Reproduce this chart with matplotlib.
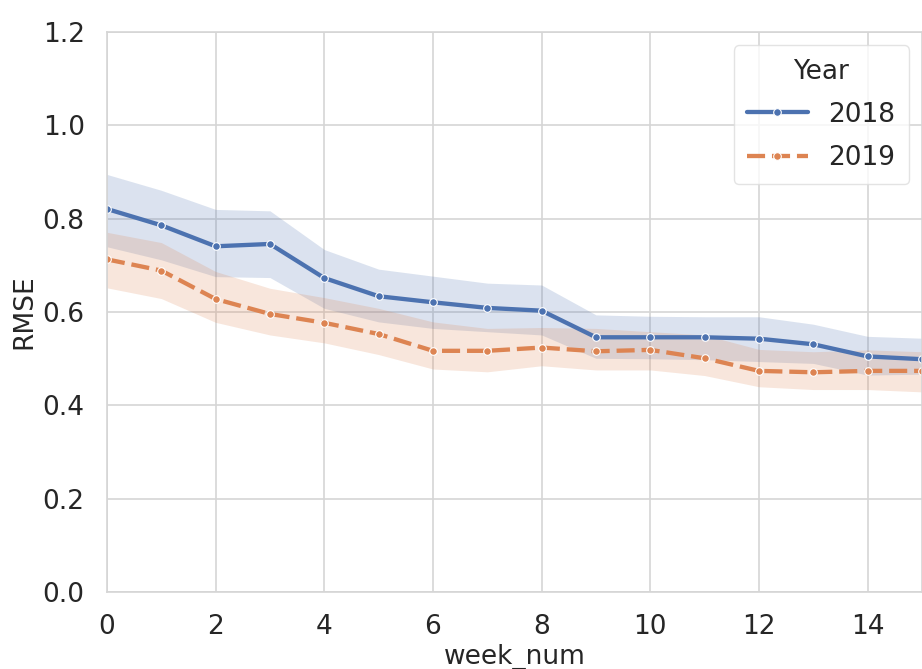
import matplotlib
matplotlib.use('Agg')
import matplotlib.pyplot as plt
import seaborn as sns

# Haftalık RMSE değerleri (ortalama ve güven aralığı)
weeks = list(range(16))
rmse_2018 = [0.821, 0.786, 0.741, 0.746, 0.673, 0.634, 0.621, 0.609,
             0.603, 0.546, 0.546, 0.546, 0.543, 0.531, 0.505, 0.499]
upper_2018 = [0.895, 0.861, 0.820, 0.817, 0.734, 0.692, 0.677, 0.662,
              0.658, 0.594, 0.591, 0.590, 0.590, 0.574, 0.548, 0.544]
lower_2018 = [0.740, 0.712, 0.676, 0.674, 0.608, 0.579, 0.565, 0.558,
              0.551, 0.501, 0.500, 0.498, 0.494, 0.490, 0.465, 0.467]
rmse_2019 = [0.713, 0.689, 0.628, 0.596, 0.577, 0.553, 0.517, 0.517,
             0.524, 0.516, 0.519, 0.501, 0.474, 0.471, 0.474, 0.474]
upper_2019 = [0.771, 0.749, 0.687, 0.651, 0.631, 0.608, 0.579, 0.565,
              0.567, 0.565, 0.558, 0.551, 0.520, 0.515, 0.519, 0.515]
lower_2019 = [0.652, 0.629, 0.578, 0.551, 0.534, 0.509, 0.478, 0.472,
              0.485, 0.476, 0.476, 0.464, 0.440, 0.434, 0.434, 0.429]

years = ['2018', '2019']
yticks = [0.0, 0.2, 0.4, 0.6, 0.8, 1.0, 1.2]
xticks = [0, 2, 4, 6, 8, 10, 12, 14]

sns.set_theme(style='whitegrid')
plt.rcParams['font.family'] = ['DejaVu Sans']
colors = sns.color_palette('deep')

fig = plt.figure(figsize=(9.22, 6.69), dpi=100)
ax = fig.add_axes([0.116, 0.115, 0.884, 0.837])

series = [(rmse_2018, lower_2018, upper_2018, '-'),
          (rmse_2019, lower_2019, upper_2019, (0, (4.2, 1.6)))]
for i, (mean, lo, hi, ls) in enumerate(series):
    ax.fill_between(weeks, lo, hi, color=colors[i], alpha=0.2, linewidth=0)
    ax.plot(weeks, mean, color=colors[i], linestyle=ls, linewidth=3.1,
            marker='o', markersize=5.5, markeredgecolor='white',
            markeredgewidth=0.8, label=years[i])

ax.set_xlim(0, 15)
ax.set_ylim(0, 1.2)
ax.set_xticks(xticks)
ax.set_yticks(yticks)
ax.set_yticklabels([f'{v:.1f}' for v in yticks])
ax.tick_params(axis='both', labelsize=19, pad=10, colors='#262626')
ax.set_xlabel('week_num', fontsize=19, labelpad=3)
ax.set_ylabel('RMSE', fontsize=19, labelpad=4)
ax.grid(True, color='#d5d5d5', linewidth=1.2)
for s in ax.spines.values():
    s.set_color('#d5d5d5')
    s.set_linewidth(1.2)

leg = ax.legend(title='Year', fontsize=19, title_fontsize=19,
                loc='upper right', handlelength=2.3, borderaxespad=0.5,
                labelspacing=0.65, borderpad=0.5)
leg.get_frame().set_edgecolor('#dddddd')

fig.savefig('out.png', dpi=100)
